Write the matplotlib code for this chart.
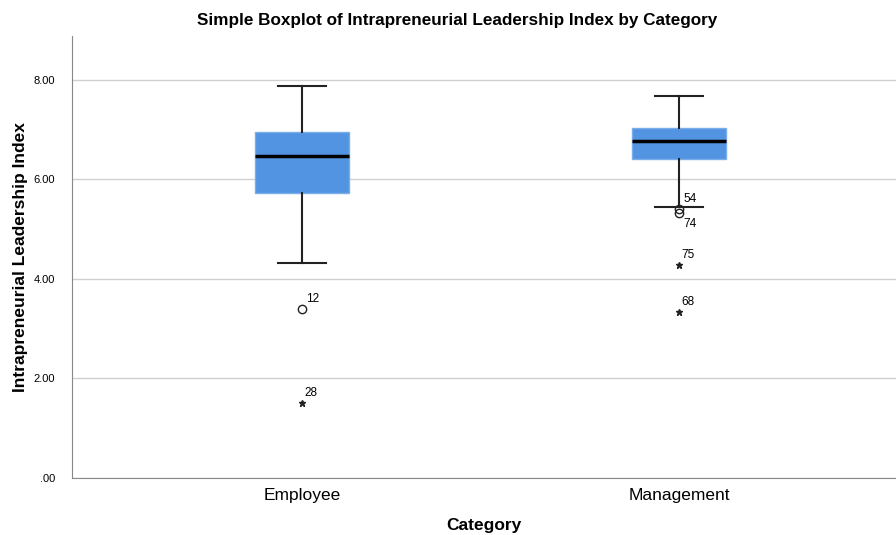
import matplotlib
matplotlib.use("Agg")
import matplotlib.pyplot as plt

plt.rcParams['font.family'] = ['Liberation Sans', 'DejaVu Sans']

# Datos
categorias = ['Employee', 'Management']
minimos = [4.32, 5.45]
q1 = [5.73, 6.41]
medianas = [6.47, 6.77]
q3 = [6.95, 7.04]
maximos = [7.88, 7.68]

# Valores atipicos (circulo) y extremos (estrella): categoria, valor, caso
atipicos_cat = [0, 1, 1]
atipicos_val = [3.40, 5.41, 5.33]
atipicos_id = ['12', '54', '74']
extremos_cat = [0, 1, 1]
extremos_val = [1.51, 4.28, 3.34]
extremos_id = ['28', '75', '68']

posiciones = [1, 2]

fig = plt.figure(figsize=(8.96, 5.35), dpi=100)
ax = fig.add_axes([72 / 896, 1 - 478 / 535, 1 - 72 / 896, (478 - 36) / 535])

stats = []
for i, nombre in enumerate(categorias):
    stats.append({'label': nombre, 'whislo': minimos[i], 'q1': q1[i],
                  'med': medianas[i], 'q3': q3[i], 'whishi': maximos[i],
                  'fliers': []})

ax.bxp(stats, positions=posiciones, widths=0.25, patch_artist=True,
       showfliers=False,
       boxprops=dict(facecolor='#5294e2', edgecolor='#7aaeea', linewidth=1),
       medianprops=dict(color='black', linewidth=2.5),
       whiskerprops=dict(color='#222222', linewidth=1.5),
       capprops=dict(color='#222222', linewidth=1.5),
       capwidths=0.125, zorder=3)

# Atipicos
for c, v, n in zip(atipicos_cat, atipicos_val, atipicos_id):
    x = posiciones[c]
    ax.plot(x, v, marker='o', markersize=6, markerfacecolor='none',
            markeredgecolor='#222222', markeredgewidth=1, zorder=4)
    dy = -8 if n == '74' else 7
    ax.annotate(n, (x, v), xytext=(3, dy), textcoords='offset points',
                fontsize=8.5, va='center', ha='left')

# Extremos
for c, v, n in zip(extremos_cat, extremos_val, extremos_id):
    x = posiciones[c]
    ax.plot(x, v, marker='*', markersize=5, color='#222222', zorder=4)
    ax.annotate(n, (x, v), xytext=(2, 7), textcoords='offset points',
                fontsize=8.5, va='center', ha='left')

ax.set_xlim(1 - 230 / 377, 2 + 217 / 377)
ax.set_ylim(0, 8.88)
ax.set_yticks([0, 2, 4, 6, 8])
ax.set_yticklabels(['.00', '2.00', '4.00', '6.00', '8.00'], fontsize=8)
ax.set_xticks(posiciones)
ax.set_xticklabels(categorias, fontsize=12.5)
ax.tick_params(axis='y', length=0, pad=12)
ax.tick_params(axis='x', length=0, pad=7)
ax.yaxis.grid(True, color='#d0d0d0', linewidth=1)
ax.set_axisbelow(True)

for lado in ['top', 'right']:
    ax.spines[lado].set_visible(False)
ax.spines['left'].set_color('#888888')
ax.spines['bottom'].set_color('#888888')

ax.set_ylabel('Intrapreneurial Leadership Index', fontsize=12.5, fontweight='bold',
              labelpad=4)
ax.set_xlabel('Category', fontsize=12.5, fontweight='bold', labelpad=11)
fig.text(457 / 896, 1 - 20 / 535, 'Simple Boxplot of Intrapreneurial Leadership Index by Category',
         ha='center', va='center', fontsize=12.3, fontweight='bold')

fig.savefig('out.png', dpi=100)
